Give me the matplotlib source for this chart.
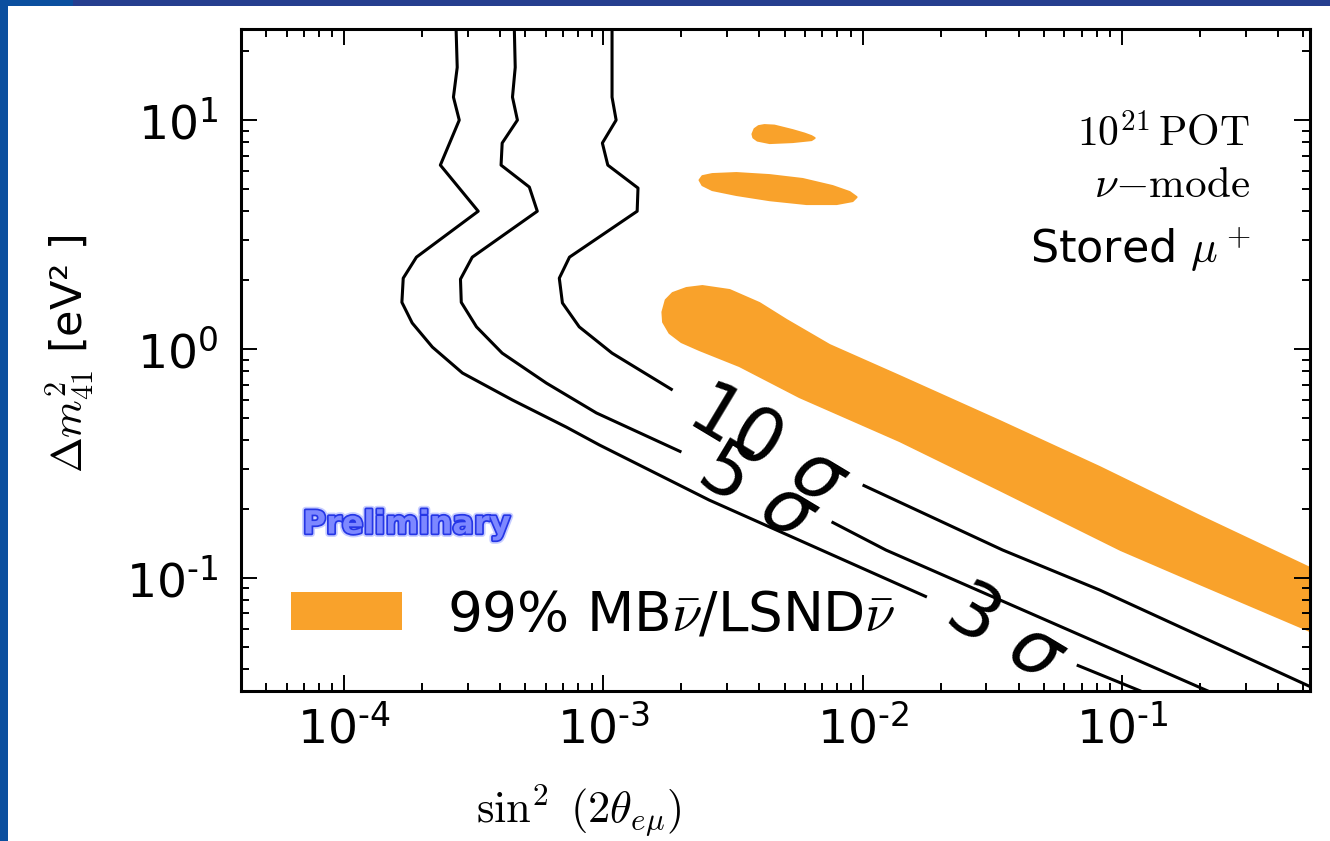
import numpy as np
import matplotlib
matplotlib.use('Agg')
import matplotlib.pyplot as plt
from matplotlib.patches import Patch, Polygon, Rectangle
import matplotlib.patheffects as pe
from matplotlib.ticker import LogLocator, FuncFormatter, NullFormatter

nan = np.nan

# ---- contour lines (sin^2 2theta, dm^2), NaN = gap for the label ----
sigma3_x = [2.70e-4, 2.73e-4, 2.64e-4, 2.78e-4, 2.35e-4, 3.29e-4, 1.90e-4, 1.69e-4,
            1.67e-4, 1.83e-4, 2.19e-4, 2.86e-4, 4.46e-4, 7.20e-4, 9.66e-4, 2.56e-3,
            1.77e-2, nan, 6.70e-2, 0.123]
sigma3_y = [26, 17.0, 12.6, 10.0, 6.36, 4.0, 2.52, 2.04,
            1.60, 1.30, 1.02, 0.786, 0.599, 0.456, 0.381, 0.219,
            0.0826, nan, 0.0417, 0.0315]

sigma5_x = [4.53e-4, 4.57e-4, 4.46e-4, 4.66e-4, 4.07e-4, 4.03e-4, 5.18e-4, 5.56e-4,
            3.12e-4, 2.81e-4, 2.83e-4, 3.24e-4, 4.07e-4, 6.03e-4, 9.40e-4, 2.00e-3,
            nan, 7.59e-3, 1.23e-2, 0.229]
sigma5_y = [26, 17.0, 12.6, 10.0, 7.94, 6.36, 5.10, 4.0,
            2.52, 2.02, 1.60, 1.25, 0.960, 0.710, 0.526, 0.355,
            nan, 0.176, 0.1325, 0.0311]

sigma10_x = [1.08e-3, 1.08e-3, 1.12e-3, 9.91e-4, 1.04e-3, 1.36e-3, 1.35e-3, 7.40e-4,
             6.76e-4, 6.95e-4, 8.07e-4, 1.08e-3, 1.85e-3, nan, 1.0e-2, 3.47e-2,
             8.22e-2, 0.58]
sigma10_y = [26, 12.6, 10.0, 7.94, 6.36, 5.05, 4.0, 2.52,
             2.04, 1.59, 1.25, 0.960, 0.662, nan, 0.255, 0.1325,
             0.0886, 0.0321]

contour_labels = [r'$3\ \sigma$', r'$5\ \sigma$', r'$10\ \sigma$']
label_x = [3.53e-2, 3.90e-3, 4.30e-3]
label_y = [0.0564, 0.2326, 0.3736]

# ---- 99% MB/LSND allowed regions ----
band_x = [1.69e-3, 1.74e-3, 1.85e-3, 2.09e-3, 2.41e-3, 3.07e-3, 4.00e-3, 5.09e-3,
          7.46e-3, 1.39e-2, 3.38e-2, 8.22e-2, 0.200, 0.532, 0.635,
          0.635, 0.532, 0.200, 9.91e-2, 3.38e-2, 1.39e-2, 5.71e-3, 3.35e-3,
          2.35e-3, 2.00e-3, 1.80e-3, 1.70e-3]
band_y = [1.451, 1.636, 1.756, 1.847, 1.884, 1.810, 1.588, 1.339,
          1.041, 0.762, 0.485, 0.305, 0.1866, 0.1106, 0.100,
          0.0536, 0.0587, 0.0941, 0.1325, 0.2423, 0.3965, 0.617, 0.843,
          0.990, 1.073, 1.175, 1.312]

island1_x = [3.76e-3, 3.83e-3, 3.97e-3, 4.18e-3, 4.57e-3, 5.37e-3, 5.97e-3, 6.35e-3,
             6.53e-3, 6.35e-3, 5.37e-3, 4.38e-3, 3.93e-3, 3.79e-3]
island1_y = [8.69, 9.14, 9.41, 9.51, 9.46, 9.04, 8.73, 8.51,
             8.35, 8.18, 8.02, 7.94, 8.14, 8.39]

island2_x = [2.35e-3, 2.41e-3, 2.63e-3, 3.26e-3, 4.38e-3, 5.87e-3, 7.66e-3, 8.91e-3,
             9.48e-3, 9.15e-3, 7.94e-3, 6.08e-3, 4.38e-3, 3.26e-3, 2.63e-3, 2.41e-3]
island2_y = [5.47, 5.69, 5.81, 5.87, 5.75, 5.53, 5.15, 4.85,
             4.61, 4.43, 4.30, 4.30, 4.47, 4.71, 4.95, 5.20]

legend_label = r'99% MB$\bar{\nu}$/LSND$\bar{\nu}$'
info_lines = [r'$10^{21}\,\mathrm{POT}$', r'$\nu\mathrm{-mode}$', r'Stored $\mu^+$']

orange = '#f9a22b'

plt.rcParams['mathtext.fontset'] = 'cm'
plt.rcParams['axes.unicode_minus'] = False
plt.rcParams['font.family'] = ['DejaVu Sans']

W, H = 1330, 841
fig = plt.figure(figsize=(W / 100, H / 100), dpi=100)
fig.patch.set_facecolor('white')

# slide border
fig.patches.append(Rectangle((0, 0), 8 / W, 1, transform=fig.transFigure,
                             facecolor='#0b4f9f', edgecolor='none', zorder=0))
fig.patches.append(Rectangle((0, 1 - 6 / H), 1, 6 / H, transform=fig.transFigure,
                             facecolor='#263e8f', edgecolor='none', zorder=0))
fig.patches.append(Rectangle((0, 1 - 6 / H), 73 / W, 6 / H, transform=fig.transFigure,
                             facecolor='#0b4f9f', edgecolor='none', zorder=0))

ax = fig.add_axes([241 / W, 1 - 690.7 / H, (1310 - 241) / W, (690.7 - 29) / H])
ax.set_xscale('log')
ax.set_yscale('log')
ax.set_xlim(4e-5, 0.532)
ax.set_ylim(0.0322, 25)

for xs, ys in [(band_x, band_y), (island1_x, island1_y), (island2_x, island2_y)]:
    ax.add_patch(Polygon(np.column_stack([xs, ys]), closed=True, facecolor=orange,
                         edgecolor=orange, linewidth=1.5, joinstyle='round', zorder=1))

for xs, ys in [(sigma3_x, sigma3_y), (sigma5_x, sigma5_y), (sigma10_x, sigma10_y)]:
    ax.plot(xs, ys, color='black', linewidth=2.2, solid_joinstyle='round',
            solid_capstyle='butt', zorder=2)

for t, lx, ly in zip(contour_labels, label_x, label_y):
    ax.text(lx, ly, t, fontsize=54, rotation=-31, ha='center', va='center',
            rotation_mode='anchor', math_fontfamily='dejavusans', zorder=3)


def dec_fmt(v, pos):
    e = int(round(np.log10(v)))
    return r'$\mathdefault{10^{%s}}$' % str(e).replace('-', '\u2010')


# ticks
ax.xaxis.set_major_locator(LogLocator(base=10, numticks=20))
ax.yaxis.set_major_locator(LogLocator(base=10, numticks=20))
ax.xaxis.set_minor_locator(LogLocator(base=10, subs=np.arange(2, 10), numticks=20))
ax.yaxis.set_minor_locator(LogLocator(base=10, subs=np.arange(2, 10), numticks=20))
ax.xaxis.set_major_formatter(FuncFormatter(dec_fmt))
ax.yaxis.set_major_formatter(FuncFormatter(dec_fmt))
ax.xaxis.set_minor_formatter(NullFormatter())
ax.yaxis.set_minor_formatter(NullFormatter())
ax.tick_params(which='both', direction='in', top=True, right=True, width=1.4,
               labelsize=34)
ax.tick_params(which='major', length=11.5)
ax.tick_params(which='minor', length=5.8)
ax.tick_params(axis='x', which='major', pad=11)
ax.tick_params(axis='y', which='major', pad=16)
for lab in ax.get_xticklabels() + ax.get_yticklabels():
    lab.set_math_fontfamily('dejavusans')
for s in ax.spines.values():
    s.set_linewidth(2.2)

ax.set_xlabel(r'$\sin^2\ (2\theta_{e\mu})$', fontsize=32)
ax.xaxis.set_label_coords(0.316, -0.138)
ax.set_ylabel(r'$\Delta m^2_{41}$ [eV² ]', fontsize=31)
ax.yaxis.set_label_coords(-0.135, 0.51)

# info text
info_y = [0.8217, 0.746, 0.646]
info_fs = [30, 31, 32]
for t, yy, fs in zip(info_lines, info_y, info_fs):
    ax.text(0.944, yy, t, transform=ax.transAxes, ha='right', va='baseline', fontsize=fs)

# Preliminary
ax.text(0.155, 0.2504, 'Preliminary', transform=ax.transAxes, ha='center', va='center',
        fontsize=23, fontweight='bold', color='#7d88ff',
        path_effects=[pe.Stroke(linewidth=5, foreground='#c8ceff'),
                      pe.Stroke(linewidth=2.5, foreground='#2536e6'), pe.Normal()])

leg = ax.legend(handles=[Patch(facecolor=orange, edgecolor='none', label=legend_label)],
                loc='center left', bbox_to_anchor=(0.0468, 0.1144), frameon=False,
                borderpad=0, borderaxespad=0, handlelength=2.16 * 37 / 39.5,
                handleheight=0.74 * 37 / 39.5, handletextpad=0.88 * 37 / 39.5,
                fontsize=39.5)

fig.savefig('out.png', dpi=100, facecolor=fig.get_facecolor())
